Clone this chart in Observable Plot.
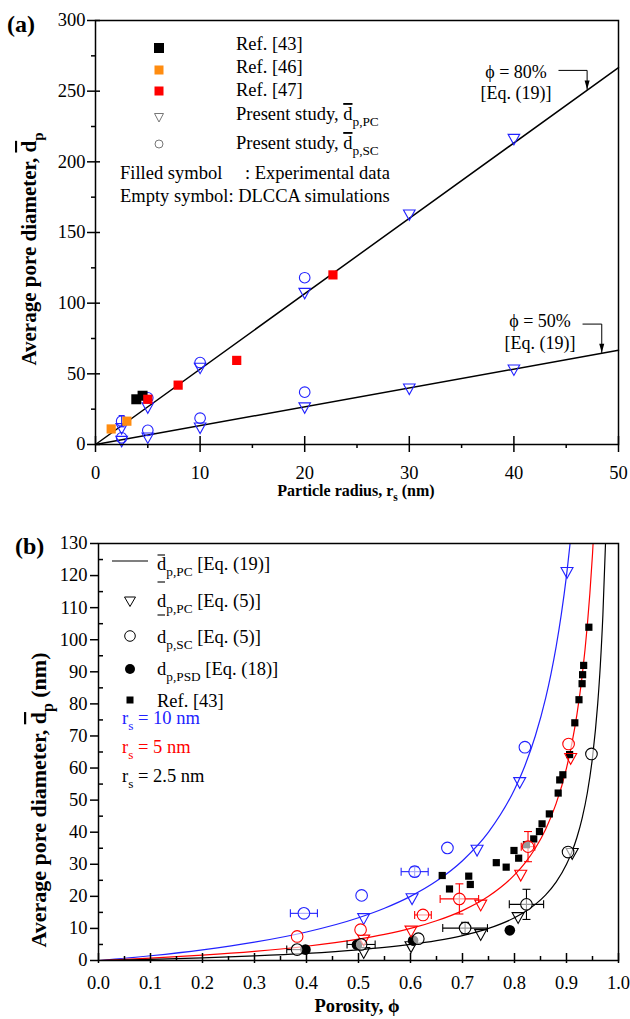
<!DOCTYPE html>
<html>
<head>
<meta charset="utf-8">
<script src="https://cdn.jsdelivr.net/npm/d3@7"></script>
<script src="https://cdn.jsdelivr.net/npm/@observablehq/plot@0.6"></script>
<style>
  body { margin: 0; background: #fff; }
  #chart svg { display: block; }
</style>
</head>
<body>
<div id="chart"></div>
<script>
const SERIF = "'Liberation Serif','Times New Roman',serif";
const BLUE = "#2222ff", RED = "#ff0000", ORANGE = "#ff8c10", GRAY = "#777";

// ---------- Panel (a): average pore diameter vs particle radius ----------
const radiusRef43 = [3.9, 4.5];
const diamRef43 = [32, 34.5];
const radiusRef46 = [1.5, 3.0];
const diamRef46 = [11, 16.5];
const radiusRef47 = [5.0, 7.9, 13.5, 22.7];
const diamRef47 = [32, 42, 59.5, 120];
const radiusSimPC = [2.5, 5, 10, 20, 30, 40];
const diamPC80 = [12.3, 27, 55, 108, 163.5, 217];
const diamPC50 = [3.3, 5.7, 12.7, 27, 40.3, 53.8];
const radiusSimSC = [2.5, 5, 10, 20];
const diamSC80 = [16.5, 33, 58, 118];
const errSC80 = [4, 0, 0, 0];
const diamSC50 = [4.7, 10, 18.6, 37];
const radiusEq = [0, 50];
const diamEq80 = [0, 266.7];
const diamEq50 = [0, 66.7];
const xMajorA = [0, 10, 20, 30, 40, 50];
const xMinorA = [5, 15, 25, 35, 45];
const yMajorA = [0, 50, 100, 150, 200, 250, 300];
const yMinorA = [25, 75, 125, 175, 225, 275];

// Eq. (19) callouts: label anchor and elbow arrow path (data units)
const note80Lines = ["ϕ = 80%", "[Eq. (19)]"];
const note80X = 40.2, note80Y = [263.3, 248.4];
const arrow80X = [44.3, 47.0, 47.0], arrow80Y = [264.7, 264.7, 251.2];
const note50Lines = ["ϕ = 50%", "[Eq. (19)]"];
const note50X = 42.5, note50Y = [87, 71.5];
const arrow50X = [46.6, 48.4, 48.4], arrow50Y = [85.2, 85.2, 65.0];

// ---------- Panel (b): average pore diameter vs porosity ----------
const curvePhi10 = [0, 0.1, 0.2, 0.3, 0.4, 0.5, 0.55, 0.6, 0.65, 0.7, 0.75, 0.8, 0.82, 0.84, 0.86, 0.87, 0.88, 0.89, 0.9, 0.91];
const curveD10 = [0, 1.48, 3.33, 5.71, 8.89, 13.33, 16.3, 20.0, 24.76, 31.11, 40.0, 53.33, 60.74, 70.0, 81.9, 89.23, 97.78, 107.88, 120.0, 134.81];
const curvePhi5 = [0, 0.1, 0.2, 0.3, 0.4, 0.5, 0.55, 0.6, 0.65, 0.7, 0.75, 0.8, 0.82, 0.84, 0.86, 0.88, 0.9, 0.91, 0.92, 0.93, 0.94, 0.945, 0.95, 0.955];
const curveD5 = [0, 0.74, 1.67, 2.86, 4.44, 6.67, 8.15, 10.0, 12.38, 15.56, 20.0, 26.67, 30.37, 35.0, 40.95, 48.89, 60.0, 67.41, 76.67, 88.57, 104.44, 114.55, 126.67, 141.48];
const curvePhi25 = [0, 0.1, 0.2, 0.3, 0.4, 0.5, 0.55, 0.6, 0.65, 0.7, 0.75, 0.8, 0.82, 0.84, 0.86, 0.88, 0.9, 0.91, 0.92, 0.93, 0.94, 0.95, 0.96, 0.965, 0.97, 0.975, 0.977];
const curveD25 = [0, 0.37, 0.83, 1.43, 2.22, 3.33, 4.07, 5.0, 6.19, 7.78, 10.0, 13.33, 15.19, 17.5, 20.48, 24.44, 30.0, 33.7, 38.33, 44.29, 52.22, 63.33, 80.0, 91.9, 107.78, 130.0, 141.6];

const phiPC10 = [0.51, 0.603, 0.728, 0.81, 0.901];
const dPC10 = [13.5, 19.7, 34.8, 55.9, 121.4];
const phiSC10 = [0.395, 0.506, 0.608, 0.671, 0.82];
const dSC10 = [14.7, 20.3, 27.7, 35.1, 66.5];
const xErrSC10 = [0.026, 0, 0.026, 0, 0];
const yErrSC10 = [0, 0, 1.5, 0, 0];

const phiPC5 = [0.51, 0.601, 0.735, 0.812, 0.908];
const dPC5 = [6.8, 9.6, 17.7, 27, 63.4];
const phiSC5 = [0.382, 0.504, 0.624, 0.694, 0.826, 0.904];
const dSC5 = [7.5, 9.6, 14.2, 19.2, 35.5, 67.5];
const xErrSC5 = [0, 0, 0.016, 0.037, 0.013, 0];
const yErrSC5 = [0, 0, 0, 4.7, 4.7, 0];

const phiPC25 = [0.51, 0.601, 0.735, 0.807, 0.911];
const dPC25 = [2.9, 4.7, 8.5, 13.8, 33.8];
const phiSC25 = [0.382, 0.505, 0.615, 0.705, 0.823, 0.903, 0.948];
const dSC25 = [3.4, 5.0, 6.8, 10.1, 17.5, 33.8, 64.4];
const xErrSC25 = [0.02, 0.027, 0, 0.043, 0.033, 0, 0];
const yErrSC25 = [0, 0, 0, 1.8, 4.7, 0, 0];

const phiPSD = [0.398, 0.497, 0.605, 0.791];
const dPSD = [3.4, 4.9, 6.2, 9.4];

const phiRef43 = [0.661, 0.675, 0.712, 0.715, 0.765, 0.784, 0.799, 0.808, 0.823, 0.837, 0.848, 0.853, 0.867, 0.884, 0.887, 0.893, 0.906, 0.916, 0.924, 0.930, 0.931, 0.933, 0.943];
const dRef43 = [26.5, 22.3, 26.3, 23.7, 30.5, 29.1, 34.3, 31.9, 36.1, 37.9, 40.2, 42.6, 45.7, 52.2, 56.3, 57.9, 64.2, 74.1, 81.3, 86.3, 89.1, 92.0, 103.9];

const xMajorB = [0, 0.1, 0.2, 0.3, 0.4, 0.5, 0.6, 0.7, 0.8, 0.9, 1.0];
const xMinorB = [0.05, 0.15, 0.25, 0.35, 0.45, 0.55, 0.65, 0.75, 0.85, 0.95];
const yMajorB = [0, 10, 20, 30, 40, 50, 60, 70, 80, 90, 100, 110, 120, 130];
const yMinorB = [5, 15, 25, 35, 45, 55, 65, 75, 85, 95, 105, 115, 125];

// ---------- helpers ----------
const rows = (xs, ys, xe = [], ye = []) => xs.map((x, i) => ({x, y: ys[i], xe: xe[i] || 0, ye: ye[i] || 0}));
const half = size => Math.sqrt(size / Math.PI);
const triDown = {draw(c, s) { const r = half(s); c.moveTo(-r, -0.6 * r); c.lineTo(r, -0.6 * r); c.lineTo(0, 1.2 * r); c.closePath(); }};
const square = {draw(c, s) { const r = half(s); c.rect(-r, -r, 2 * r, 2 * r); }};
const capV = {draw(c, s) { const r = half(s); c.moveTo(0, -r); c.lineTo(0, r); }};
const capH = {draw(c, s) { const r = half(s); c.moveTo(-r, 0); c.lineTo(r, 0); }};
const arrowHead = {draw(c, s) { const r = half(s); c.moveTo(0, 0); c.lineTo(-0.28 * r, -r); c.lineTo(0.28 * r, -r); c.closePath(); }};

// Horizontal/vertical error bars with end caps
function errorBars(data, color, cap = 4) {
  const hx = data.filter(d => d.xe), vy = data.filter(d => d.ye);
  const ends = hx.flatMap(d => [{x: d.x - d.xe, y: d.y}, {x: d.x + d.xe, y: d.y}]);
  const endsV = vy.flatMap(d => [{x: d.x, y: d.y - d.ye}, {x: d.x, y: d.y + d.ye}]);
  return [
    Plot.link(hx, {x1: d => d.x - d.xe, x2: d => d.x + d.xe, y1: "y", y2: "y", stroke: color, strokeWidth: 1.1}),
    Plot.link(vy, {x1: "x", x2: "x", y1: d => d.y - d.ye, y2: d => d.y + d.ye, stroke: color, strokeWidth: 1.1}),
    Plot.dot(ends, {x: "x", y: "y", symbol: capV, r: cap, stroke: color, strokeWidth: 1.1}),
    Plot.dot(endsV, {x: "x", y: "y", symbol: capH, r: cap, stroke: color, strokeWidth: 1.1})
  ];
}

// Text with optional subscript / overline pieces
function richText(svg, {x, y, size, weight = "normal", fill = "#000", anchor = "start", rotate = 0}, parts) {
  const t = d3.select(svg).append("text")
    .attr("transform", `translate(${x},${y}) rotate(${rotate})`)
    .attr("font-family", SERIF).attr("font-size", size).attr("font-weight", weight)
    .attr("fill", fill).attr("text-anchor", anchor);
  let shift = 0;
  for (const p of parts) {
    const s = typeof p === "string" ? {t: p} : p;
    const span = t.append("tspan").text(s.t);
    const target = s.sub ? size * 0.32 : 0;
    if (target !== shift) span.attr("dy", target - shift);
    shift = target;
    if (s.sub) span.attr("font-size", size * 0.72);
    if (s.over) span.style("text-decoration", "overline");
  }
  return t;
}

const chart = document.getElementById("chart");

// ---------- build panel (a) ----------
const WA = 630, HA = 505, mtA = 20, mbA = 61, mlA = 95, mrA = 12;
const innerWA = WA - mlA - mrA, innerHA = HA - mtA - mbA;
const sc80 = rows(radiusSimSC, diamSC80, [], errSC80);

const plotA = Plot.plot({
  width: WA, height: HA, marginTop: mtA, marginBottom: mbA, marginLeft: mlA, marginRight: mrA,
  style: {fontFamily: SERIF, fontSize: "18.5px", color: "#000", background: "#fff"},
  x: {domain: [0, 50]},
  y: {domain: [0, 300]},
  marks: [
    Plot.line(rows(radiusEq, diamEq80), {x: "x", y: "y", stroke: "#000", strokeWidth: 1.5}),
    Plot.line(rows(radiusEq, diamEq50), {x: "x", y: "y", stroke: "#000", strokeWidth: 1.5}),
    ...errorBars(sc80, BLUE, 3),
    Plot.dot(rows(radiusSimPC, diamPC80), {x: "x", y: "y", symbol: triDown, r: 5.8, stroke: BLUE, strokeWidth: 1.1}),
    Plot.dot(rows(radiusSimPC, diamPC50), {x: "x", y: "y", symbol: triDown, r: 5.8, stroke: BLUE, strokeWidth: 1.1}),
    Plot.dot(sc80, {x: "x", y: "y", r: 5.3, stroke: BLUE, strokeWidth: 1.1}),
    Plot.dot(rows(radiusSimSC, diamSC50), {x: "x", y: "y", r: 5.3, stroke: BLUE, strokeWidth: 1.1}),
    Plot.dot(rows(radiusRef46, diamRef46), {x: "x", y: "y", symbol: square, r: 4.6, fill: ORANGE}),
    Plot.dot(rows(radiusRef43, diamRef43), {x: "x", y: "y", symbol: square, r: 5, fill: "#000"}),
    Plot.dot(rows(radiusRef47, diamRef47), {x: "x", y: "y", symbol: square, r: 4.6, fill: RED}),
    // Eq. (19) callouts
    Plot.line(rows(arrow80X, arrow80Y), {x: "x", y: "y", stroke: "#000", strokeWidth: 1}),
    Plot.dot([{x: arrow80X[2], y: arrow80Y[2]}], {x: "x", y: "y", symbol: arrowHead, r: 9, fill: "#000"}),
    Plot.text(note80Lines, {x: () => note80X, y: (d, i) => note80Y[i], text: d => d, fontSize: 18, textAnchor: "middle"}),
    Plot.line(rows(arrow50X, arrow50Y), {x: "x", y: "y", stroke: "#000", strokeWidth: 1}),
    Plot.dot([{x: arrow50X[2], y: arrow50Y[2]}], {x: "x", y: "y", symbol: arrowHead, r: 9, fill: "#000"}),
    Plot.text(note50Lines, {x: () => note50X, y: (d, i) => note50Y[i], text: d => d, fontSize: 18, textAnchor: "middle"}),
    Plot.frame({stroke: "#000", strokeWidth: 1.5}),
    Plot.axisX({ticks: xMajorA, tickSize: 8, tickPadding: 13, tickFormat: d => d, label: null, strokeWidth: 1.5}),
    Plot.tickX(xMajorA, {x: d => d, insetTop: innerHA - 8, strokeWidth: 1.5}),
    Plot.axisX({ticks: xMinorA, tickSize: 4, tickFormat: () => "", label: null, strokeWidth: 1.5}),
    Plot.axisY({ticks: yMajorA, tickSize: 8, tickPadding: 2, tickFormat: d => d, label: null, strokeWidth: 1.5}),
    Plot.tickY(yMajorA, {y: d => d, insetRight: innerWA - 5, strokeWidth: 1.5}),
    Plot.axisY({ticks: yMinorA, tickSize: 4, tickFormat: () => "", label: null, strokeWidth: 1.5})
  ]
});
chart.append(plotA);

// legend and titles of panel (a)
{
  const g = d3.select(plotA);
  g.append("rect").attr("x", 154).attr("y", 43).attr("width", 10).attr("height", 10).attr("fill", "#000");
  g.append("rect").attr("x", 154.5).attr("y", 65.5).attr("width", 9).attr("height", 9).attr("fill", ORANGE);
  g.append("rect").attr("x", 154.5).attr("y", 86.5).attr("width", 9).attr("height", 9).attr("fill", RED);
  g.append("path").attr("d", "M154.5,113.5L163.5,113.5L159,122Z").attr("fill", "none").attr("stroke", GRAY);
  g.append("circle").attr("cx", 159).attr("cy", 144).attr("r", 4).attr("fill", "none").attr("stroke", GRAY);
  richText(plotA, {x: 236, y: 50, size: 18.5}, ["Ref. [43]"]);
  richText(plotA, {x: 236, y: 73, size: 18.5}, ["Ref. [46]"]);
  richText(plotA, {x: 236, y: 96, size: 18.5}, ["Ref. [47]"]);
  richText(plotA, {x: 236, y: 120, size: 18.5}, ["Present study, ", {t: "d", over: true}, {t: "p,PC", sub: true}]);
  richText(plotA, {x: 236, y: 149, size: 18.5}, ["Present study, ", {t: "d", over: true}, {t: "p,SC", sub: true}]);
  richText(plotA, {x: 120, y: 179, size: 18.5}, ["Filled symbol"]);
  richText(plotA, {x: 245, y: 179, size: 18.5}, [": Experimental data"]);
  richText(plotA, {x: 120, y: 202, size: 18.5}, ["Empty symbol: DLCCA simulations"]);
  richText(plotA, {x: 7, y: 32, size: 24, weight: "bold"}, ["(a)"]);
  richText(plotA, {x: 356, y: 496, size: 16, weight: "bold", anchor: "middle"}, ["Particle radius, r", {t: "s", sub: true}, " (nm)"]);
  richText(plotA, {x: 36, y: 249, size: 21, weight: "bold", anchor: "middle", rotate: -90}, ["Average pore diameter, ", {t: "d", over: true}, {t: "p", sub: true}]);
}

// ---------- build panel (b) ----------
const WB = 630, HB = 514, mtB = 38, mbB = 59, mlB = 98, mrB = 12;
const innerWB = WB - mlB - mrB, innerHB = HB - mtB - mbB;
const sc10 = rows(phiSC10, dSC10, xErrSC10, yErrSC10);
const sc5 = rows(phiSC5, dSC5, xErrSC5, yErrSC5);
const sc25 = rows(phiSC25, dSC25, xErrSC25, yErrSC25);
const fmt1 = d3.format(".1f");

const plotB = Plot.plot({
  width: WB, height: HB, marginTop: mtB, marginBottom: mbB, marginLeft: mlB, marginRight: mrB,
  style: {fontFamily: SERIF, fontSize: "18.5px", color: "#000", background: "#fff"},
  x: {domain: [0, 1]},
  y: {domain: [0, 130]},
  marks: [
    Plot.line(rows(curvePhi10, curveD10), {x: "x", y: "y", stroke: BLUE, strokeWidth: 1.2, curve: "monotone-x", clip: true}),
    Plot.line(rows(curvePhi5, curveD5), {x: "x", y: "y", stroke: RED, strokeWidth: 1.2, curve: "monotone-x", clip: true}),
    Plot.line(rows(curvePhi25, curveD25), {x: "x", y: "y", stroke: "#000", strokeWidth: 1.2, curve: "monotone-x", clip: true}),
    ...errorBars(sc10, BLUE),
    ...errorBars(sc5, RED),
    ...errorBars(sc25, "#000"),
    Plot.dot(rows(phiRef43, dRef43), {x: "x", y: "y", symbol: square, r: 3.6, fill: "#000"}),
    Plot.dot(rows(phiPSD, dPSD), {x: "x", y: "y", r: 5.3, fill: "#000"}),
    Plot.dot(rows(phiPC10, dPC10), {x: "x", y: "y", symbol: triDown, r: 6, stroke: BLUE, strokeWidth: 1.1}),
    Plot.dot(rows(phiPC5, dPC5), {x: "x", y: "y", symbol: triDown, r: 6, stroke: RED, strokeWidth: 1.1}),
    Plot.dot(rows(phiPC25, dPC25), {x: "x", y: "y", symbol: triDown, r: 6, stroke: "#000", strokeWidth: 1.1}),
    Plot.dot(sc10, {x: "x", y: "y", r: 5.8, stroke: BLUE, fill: "#fff", fillOpacity: 0.6, strokeWidth: 1.1}),
    Plot.dot(sc5, {x: "x", y: "y", r: 5.8, stroke: RED, fill: "#fff", fillOpacity: 0.6, strokeWidth: 1.1}),
    Plot.dot(sc25, {x: "x", y: "y", r: 5.8, stroke: "#000", fill: "#fff", fillOpacity: 0.6, strokeWidth: 1.1}),
    Plot.frame({stroke: "#000", strokeWidth: 1.5}),
    Plot.axisX({ticks: xMajorB, tickSize: 3, tickPadding: 12, tickFormat: fmt1, label: null, strokeWidth: 1.5}),
    Plot.tickX(xMajorB, {x: d => d, insetTop: innerHB - 7, strokeWidth: 1.5}),
    Plot.tickX(xMinorB, {x: d => d, insetTop: innerHB - 4, strokeWidth: 1.5}),
    Plot.axisY({ticks: yMajorB, tickSize: 8, tickPadding: 3, tickFormat: d => d, label: null, strokeWidth: 1.5}),
    Plot.tickY(yMinorB, {y: d => d, insetRight: innerWB - 5, strokeWidth: 1.5})
  ]
});
chart.append(plotB);

// legend and titles of panel (b)
{
  const g = d3.select(plotB);
  const oy = HA; // panel (b) svg starts below panel (a)
  const Y = v => v - oy;
  g.append("line").attr("x1", 112).attr("x2", 148).attr("y1", Y(561)).attr("y2", Y(561)).attr("stroke", "#000").attr("stroke-width", 1.1);
  g.append("path").attr("d", `M124.5,${Y(597)}L135.5,${Y(597)}L130,${Y(606.5)}Z`).attr("fill", "none").attr("stroke", "#000");
  g.append("circle").attr("cx", 130).attr("cy", Y(636)).attr("r", 5.3).attr("fill", "none").attr("stroke", "#000");
  g.append("circle").attr("cx", 130).attr("cy", Y(669)).attr("r", 5).attr("fill", "#000");
  g.append("rect").attr("x", 126.5).attr("y", Y(696.5)).attr("width", 7).attr("height", 7).attr("fill", "#000");
  // overbars of the d symbols
  for (const by of [555, 582, 615]) {
    g.append("line").attr("x1", 157.5).attr("x2", 165).attr("y1", Y(by)).attr("y2", Y(by)).attr("stroke", "#000").attr("stroke-width", 1.1);
  }
  richText(plotB, {x: 157, y: Y(570), size: 18.5}, ["d", {t: "p,PC", sub: true}, " [Eq. (19)]"]);
  richText(plotB, {x: 157, y: Y(607), size: 18.5}, ["d", {t: "p,PC", sub: true}, " [Eq. (5)]"]);
  richText(plotB, {x: 157, y: Y(643), size: 18.5}, ["d", {t: "p,SC", sub: true}, " [Eq. (5)]"]);
  richText(plotB, {x: 157, y: Y(675), size: 18.5}, ["d", {t: "p,PSD", sub: true}, " [Eq. (18)]"]);
  richText(plotB, {x: 157, y: Y(707), size: 18.5}, ["Ref. [43]"]);
  richText(plotB, {x: 122, y: Y(724), size: 18.5, fill: BLUE}, ["r", {t: "s", sub: true}, " = 10 nm"]);
  richText(plotB, {x: 122, y: Y(753), size: 18.5, fill: RED}, ["r", {t: "s", sub: true}, " = 5 nm"]);
  richText(plotB, {x: 122, y: Y(782), size: 18.5}, ["r", {t: "s", sub: true}, " = 2.5 nm"]);
  richText(plotB, {x: 15, y: Y(554), size: 24, weight: "bold"}, ["(b)"]);
  richText(plotB, {x: 357, y: Y(1012), size: 18.5, weight: "bold", anchor: "middle"}, ["Porosity, ϕ"]);
  richText(plotB, {x: 46, y: Y(800), size: 22, weight: "bold", anchor: "middle", rotate: -90}, ["Average pore diameter, ", {t: "d", over: true}, {t: "p", sub: true}, " (nm)"]);
}
</script>
</body>
</html>
